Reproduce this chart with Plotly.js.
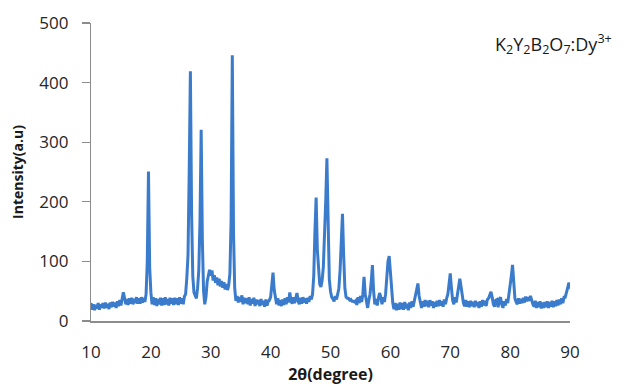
<!DOCTYPE html>
<html>
<head>
<meta charset="utf-8">
<script src="https://cdn.plot.ly/plotly-3.0.1.min.js"></script>
<style>html,body{margin:0;padding:0;background:#fff;}#chart{width:627px;height:390px;}</style>
</head>
<body>
<div id="chart"></div>
<script>
// 2θ sampling grid: start, step (degrees)
const twoThetaStart = 10.0;
const twoThetaStep = 0.2;
// Intensity (a.u.), one row = 2 degrees
const intensity = [
  30,19,28,18,27,21,30,19,28,22,      // 10.0-11.8
  30,21,31,22,29,20,31,23,32,24,      // 12.0-13.8
  31,22,33,25,35,26,37,48,39,28,      // 14.0-15.8
  37,27,38,29,39,28,37,30,40,29,      // 16.0-17.8
  38,29,40,31,39,32,45,100,251,90,    // 18.0-19.8
  48,28,40,27,38,25,37,28,39,26,      // 20.0-21.8
  38,27,40,28,37,26,39,29,38,27,      // 22.0-23.8
  39,28,38,27,40,29,38,28,41,45,      // 24.0-25.8
  72,110,250,419,180,75,48,42,38,55,  // 26.0-27.8
  85,165,321,135,50,28,40,66,80,86,   // 28.0-29.8
  76,85,68,77,64,73,60,71,58,67,      // 30.0-31.8
  56,65,53,62,52,60,80,170,446,150,   // 32.0-33.8
  55,34,42,31,40,32,43,28,39,30,      // 34.0-35.8
  38,28,40,26,37,29,39,25,36,28,      // 36.0-37.8
  35,25,37,27,34,24,36,26,33,35,      // 38.0-39.8
  40,60,81,52,36,28,38,26,35,25,      // 40.0-41.8
  36,27,38,28,40,31,48,34,29,40,      // 42.0-43.8
  30,41,47,33,28,39,29,40,31,38,      // 44.0-45.8
  29,39,32,42,36,45,75,150,207,120,   // 46.0-47.8
  90,62,57,68,90,140,200,273,150,70,  // 48.0-49.8
  50,40,37,33,42,36,45,55,85,130,     // 50.0-51.8
  180,110,55,40,38,38,35,36,33,33,    // 52.0-53.8
  32,34,27,40,30,42,32,45,74,45,      // 54.0-55.8
  30,22,35,45,65,94,50,28,37,26,      // 56.0-57.8
  38,47,40,28,40,32,45,70,100,109,    // 58.0-59.8
  80,45,30,20,30,18,29,19,31,20,      // 60.0-61.8
  30,19,32,21,29,18,31,22,33,24,      // 62.0-63.8
  35,40,55,63,42,28,22,33,24,35,      // 64.0-65.8
  25,34,23,35,26,33,22,32,24,34,      // 66.0-67.8
  25,35,26,33,24,36,28,38,45,62,      // 68.0-69.8
  80,55,35,28,40,31,45,62,71,58,      // 70.0-71.8
  40,30,25,35,24,33,23,34,25,32,      // 72.0-73.8
  23,34,25,32,22,33,24,35,26,34,      // 74.0-75.8
  25,36,38,45,49,40,28,24,35,36,      // 76.0-77.8
  23,36,40,28,22,33,26,37,30,45,      // 78.0-79.8
  58,75,94,60,38,32,28,38,29,37,      // 80.0-81.8
  30,39,31,41,33,40,34,42,33,28,      // 82.0-83.8
  24,34,22,32,23,33,21,31,22,32,      // 84.0-85.8
  23,33,22,32,24,34,23,33,25,35,      // 86.0-87.8
  26,36,28,38,30,40,40,46,55,64,      // 88.0-89.8
  58,52,48                            // 90.0-90.4
];
const xTickVals = [10,20,30,40,50,60,70,80,90];
const yTickVals = [0,100,200,300,400,500];
const sampleLabel = 'K<sub>2</sub>Y<sub>2</sub>B<sub>2</sub>O<sub>7</sub>:Dy<sup>3+</sup>';

const twoTheta = intensity.map((_, i) => +(twoThetaStart + i * twoThetaStep).toFixed(2));

const trace = {
  x: twoTheta,
  y: intensity,
  type: 'scatter',
  mode: 'lines',
  line: {color: '#3b7bcb', width: 3},
  hoverinfo: 'skip'
};

const layout = {
  width: 627, height: 390,
  margin: {l: 91, r: 57, t: 23, b: 69},
  paper_bgcolor: '#ffffff', plot_bgcolor: '#ffffff',
  showlegend: false,
  font: {family: '"Open Sans", "Liberation Sans", sans-serif', color: '#262626', size: 17},
  xaxis: {
    range: [10, 90], tickvals: xTickVals, ticks: '', showgrid: false, zeroline: false,
    showline: true, linecolor: '#8c8c8c', linewidth: 1.5,
    ticklabelstandoff: 15,
    tickfont: {size: 17, color: '#262626'},
    title: {text: '<b>2θ(degree)</b>', font: {size: 16, color: '#1a1a1a'}, standoff: 6}
  },
  yaxis: {
    range: [0, 500], tickvals: yTickVals, ticks: 'outside', ticklen: 8, tickcolor: '#8c8c8c', tickwidth: 1.2,
    showgrid: false, zeroline: false, showline: true, linecolor: '#8c8c8c', linewidth: 1.2,
    ticklabelstandoff: 10,
    tickfont: {size: 17, color: '#262626'},
    title: {text: '<b>Intensity(a.u)</b>', font: {size: 14, color: '#1a1a1a'}, standoff: 12}
  },
  annotations: [{
    text: sampleLabel, xref: 'paper', yref: 'paper', x: 0.839, y: 0.929,
    xanchor: 'left', yanchor: 'middle', showarrow: false,
    font: {size: 18, color: '#1a1a1a'}
  }]
};

Plotly.newPlot('chart', [trace], layout, {displayModeBar: false, staticPlot: true});
</script>
</body>
</html>
